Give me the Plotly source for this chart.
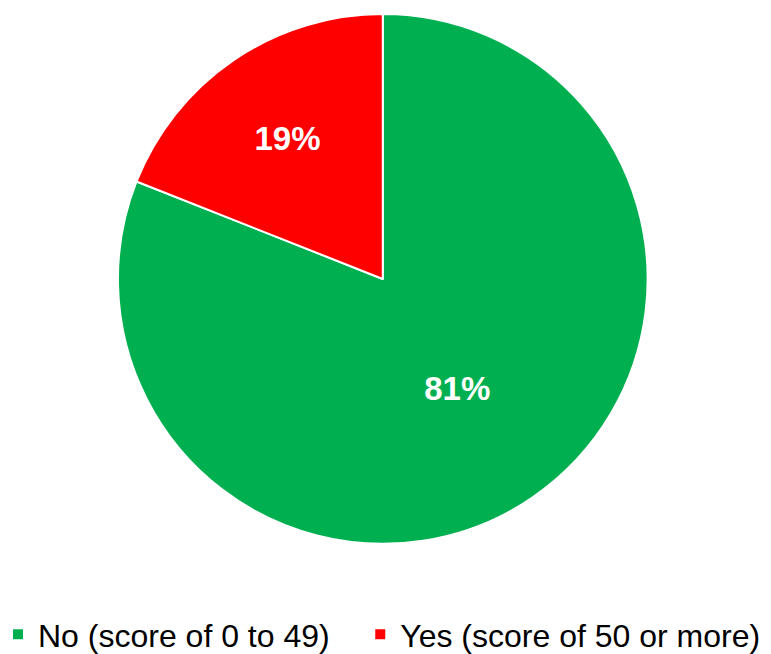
import plotly.graph_objects as go

labels = ["No (score of 0 to 49)", "Yes (score of 50 or more)"]
values = [81, 19]
colors = ["#00B050", "#FF0000"]

# legend entries: pad the first entry so the second starts where the reference shows it
legend_labels = [labels[0] + "\u00a0" * 4, labels[1]]

fig = go.Figure(go.Pie(
    labels=legend_labels,
    values=values,
    sort=False,
    direction="clockwise",
    rotation=0,
    marker=dict(colors=colors, line=dict(color="white", width=2)),
    texttemplate="%{value}%",
    textposition="inside",
    insidetextorientation="horizontal",
    textfont=dict(family="Liberation Sans, Arial, sans-serif", size=33, color="white", weight="bold"),
    hoverinfo="label+percent",
    domain=dict(x=[0.1426, 0.8296], y=[0.1807, 0.9907]),
))

fig.update_layout(
    width=771, height=654,
    margin=dict(l=0, r=0, t=0, b=0),
    paper_bgcolor="white",
    plot_bgcolor="white",
    showlegend=True,
    legend=dict(
        orientation="h",
        x=0.0, xanchor="left",
        y=0.0, yanchor="bottom",
        indentation=-10,
        font=dict(family="Liberation Sans, Arial, sans-serif", size=32, color="#000000"),
        itemwidth=30,
        traceorder="normal",
    ),
)

fig.write_html("out.html")
